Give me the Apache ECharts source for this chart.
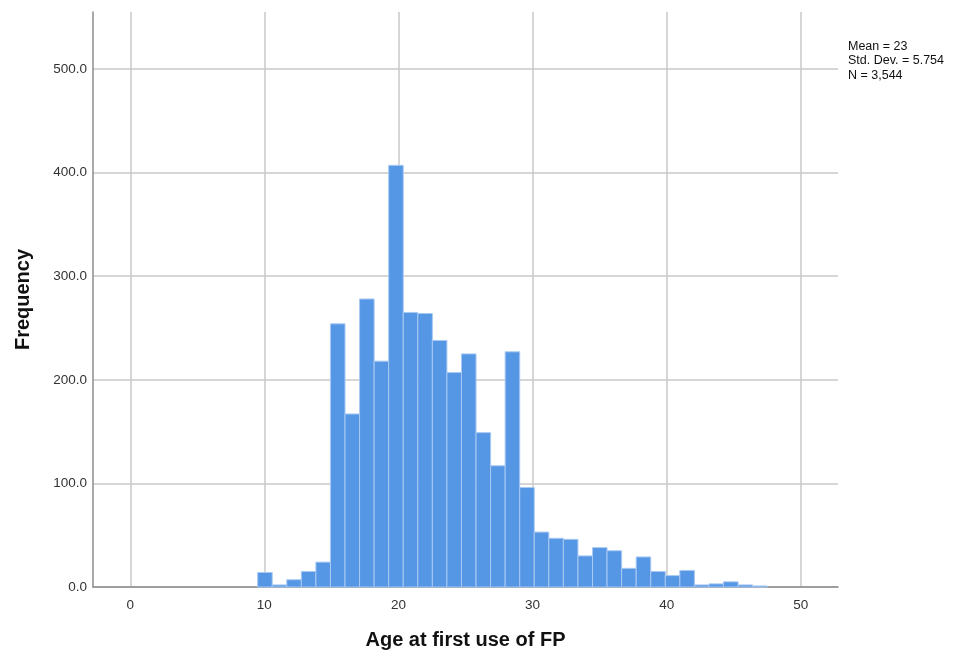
<!DOCTYPE html>
<html>
<head>
<meta charset="utf-8">
<script src="https://cdn.jsdelivr.net/npm/echarts@6/dist/echarts.min.js"></script>
<style>
html,body{margin:0;padding:0;background:#fff;}
#chart{width:960px;height:655px;}
</style>
</head>
<body>
<div id="chart"></div>
<script>
// Histogram data: 35 bins, starting at 9.5, equal width (38/35)
const BIN_START = 9.5;
const BIN_WIDTH = 38 / 35;
const counts = [14, 2, 7, 15, 24, 254, 167, 278, 218, 407, 265, 264, 238, 207, 225, 149, 117, 227, 96, 53, 47, 46, 30, 38, 35, 18, 29, 15, 11, 16, 2, 3, 5, 2, 1];
const xTicks = [0, 10, 20, 30, 40, 50];
const yTicks = [0, 100, 200, 300, 400, 500];
const statsLines = ['Mean = 23', 'Std. Dev. = 5.754', 'N = 3,544'];
const xTitle = 'Age at first use of FP';
const yTitle = 'Frequency';

const binData = counts.map((c, i) => [BIN_START + i * BIN_WIDTH, BIN_START + (i + 1) * BIN_WIDTH, c]);

const chart = echarts.init(document.getElementById('chart'), null, {renderer: 'canvas'});
const FONT = '"Liberation Sans", Arial, sans-serif';
chart.setOption({
  animation: false,
  backgroundColor: '#ffffff',
  grid: {left: 93, right: 122, top: 12, bottom: 60, containLabel: false},
  xAxis: {
    type: 'value',
    min: -2.78,
    max: 52.78,
    name: xTitle,
    nameLocation: 'middle',
    nameGap: 43,
    nameTextStyle: {fontFamily: FONT, fontSize: 20, fontWeight: 'bold', color: '#111'},
    axisLine: {show: true, onZero: false, lineStyle: {color: '#8c8c8c', width: 1.5}},
    axisTick: {show: false, customValues: xTicks},
    axisLabel: {customValues: xTicks, fontFamily: FONT, fontSize: 13.5, color: '#333', margin: 11},
    splitLine: {show: true, lineStyle: {color: '#c8c8c8', width: 1.5}}
  },
  yAxis: {
    type: 'value',
    min: 0,
    max: 555,
    name: yTitle,
    nameLocation: 'middle',
    nameGap: 60,
    nameTextStyle: {fontFamily: FONT, fontSize: 20, fontWeight: 'bold', color: '#111'},
    axisLine: {show: true, onZero: false, lineStyle: {color: '#8c8c8c', width: 1.5}},
    axisTick: {show: false, customValues: yTicks},
    axisLabel: {customValues: yTicks, formatter: v => v.toFixed(1), fontFamily: FONT, fontSize: 13.5, color: '#333', margin: 6},
    splitLine: {show: true, lineStyle: {color: '#c8c8c8', width: 1.5}}
  },
  graphic: [{
    type: 'text',
    left: 848,
    top: 39,
    style: {text: statsLines.join('\n'), font: '12.5px ' + FONT, fill: '#111', lineHeight: 14.5}
  }],
  series: [{
    type: 'custom',
    data: binData,
    encode: {x: [0, 1], y: 2},
    renderItem: function (params, api) {
      const p0 = api.coord([api.value(0), api.value(2)]);
      const p1 = api.coord([api.value(1), 0]);
      return {
        type: 'rect',
        shape: {x: p0[0], y: p0[1], width: p1[0] - p0[0], height: p1[1] - p0[1]},
        style: {fill: '#5596e5', stroke: '#a8c9f2', lineWidth: 1}
      };
    }
  }]
});
</script>
</body>
</html>
